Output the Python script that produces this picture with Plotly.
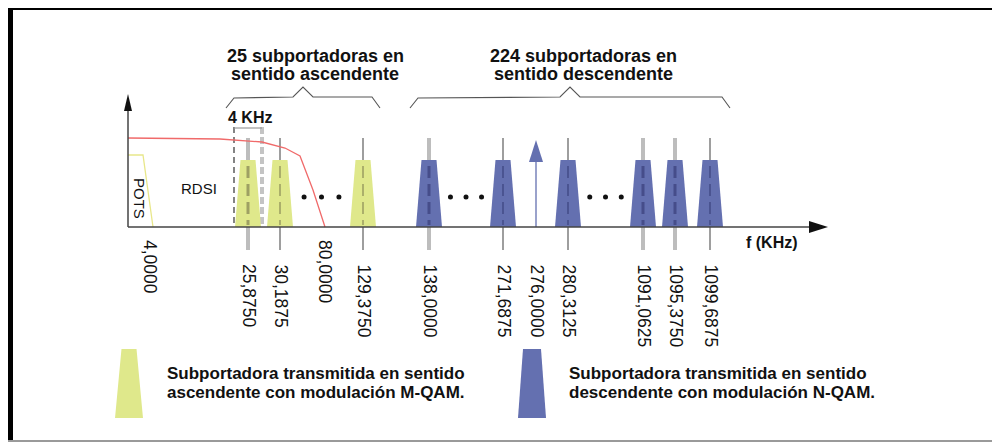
import plotly.graph_objects as go

# ---------------- data ----------------
# Schematic (non-linear) frequency axis: each carrier has a diagram position
up_labels = ["25,8750", "30,1875", "129,3750"]
up_pos = [248, 280, 363]
down_labels = ["138,0000", "271,6875", "280,3125", "1091,0625", "1095,3750", "1099,6875"]
down_pos = [429, 503, 568, 643, 675, 710]
pilot_label = "276,0000"
pilot_pos = 536
edge_labels = ["4,0000", "80,0000"]
edge_pos = [150, 325]
# carriers drawn with a wide light tick
wide_ticks = ["25,8750", "138,0000", "1091,0625", "1095,3750"]

# ISDN / POTS filter curve (schematic)
curve_x = [128, 220, 262, 285, 300, 313, 325]
curve_y = [138, 139, 142, 148, 156, 190, 227]

title_up = ["25 subportadoras en", "sentido ascendente"]
title_down = ["224 subportadoras en", "sentido descendente"]
legend_up = ["Subportadora transmitida en sentido", "ascendente con modulación M-QAM."]
legend_down = ["Subportadora transmitida en sentido", "descendente con modulación N-QAM."]

# ---------------- style ----------------
YEL = "#dfe88b"
BLU = "#6470b0"
FONT = "Liberation Sans, Arial, sans-serif"
BASE = 227
TOP = 160
HB, HT = 13, 7.5

fig = go.Figure()

def line(xs, ys, color, width=1.2, dash=None, opacity=1.0):
    fig.add_trace(go.Scatter(x=xs, y=ys, mode="lines", opacity=opacity,
                             line=dict(color=color, width=width, dash=dash),
                             hoverinfo="skip", showlegend=False))

def poly(xs, ys, color, fill=True, width=0):
    fig.add_trace(go.Scatter(x=xs + [xs[0]], y=ys + [ys[0]], mode="lines",
                             fill="toself" if fill else None, fillcolor=color,
                             line=dict(color=color, width=width),
                             hoverinfo="skip", showlegend=False))

def trap(cx, color, top=TOP, bottom=BASE, hb=HB, ht=HT):
    poly([cx - hb, cx - ht, cx + ht, cx + hb], [bottom, top, top, bottom], color)

def text(x, y, s, size=15, angle=0, xa="center", ya="middle", bold=False, color="#111"):
    fig.add_annotation(x=x, y=y, text=f"<b>{s}</b>" if bold else s, showarrow=False,
                       textangle=angle, xanchor=xa, yanchor=ya,
                       font=dict(family=FONT, size=size, color=color))

# ticks through carriers (behind trapezoids)
for lab, p in zip(up_labels + down_labels, up_pos + down_pos):
    wide = lab in wide_ticks
    line([p, p], [138, 250], "#bdbdbd" if wide else "#6a6a6a", 4 if wide else 1.3)

# 4 KHz markers
line([234, 234], [127, BASE], "#333", 1.2, "6px,4px")
line([262, 262], [127, BASE], "#c4c4c4", 4, "7px,3px")
line([234, 262], [128, 128], "#9a9a9a", 1.2)
text(250, 117, "4 KHz", 16, bold=True)

# red curve
line(curve_x, curve_y, "#f06a6a", 1.3)

# POTS outline
line([128, 143, 153], [155, 155, BASE], "#e8e78a", 1.3)
text(140, 198, "POTS", 15, angle=90)
text(199, 188, "RDSI", 15)

# carriers
for lab, p in zip(up_labels, up_pos):
    trap(p, YEL)
for lab, p in zip(down_labels, down_pos):
    trap(p, BLU)
# dashed inner ticks
for lab, p in zip(up_labels, up_pos):
    line([p, p], [166, 225], "#8f8f5a", 3 if lab in wide_ticks else 1.6, "12px,6px", 0.8)
for lab, p in zip(down_labels, down_pos):
    line([p, p], [166, 225], "#434a86", 3 if lab in wide_ticks else 1.6, "12px,6px", 0.9)

# pilot
line([pilot_pos, pilot_pos], [BASE, 160], BLU, 1.3)
poly([pilot_pos - 7, pilot_pos, pilot_pos + 7], [162, 140, 162], BLU)

# ellipsis dots between carrier groups
dot_x = []
for a, b in [(up_pos[1], up_pos[2]), (down_pos[0], down_pos[1]), (down_pos[2], down_pos[3])]:
    for f in (0.29, 0.5, 0.71):
        dot_x.append(a + (b - a) * f)
fig.add_trace(go.Scatter(x=dot_x, y=[197] * len(dot_x), mode="markers",
                         marker=dict(color="#111", size=5), hoverinfo="skip", showlegend=False))

# axes
line([128, 128], [BASE, 108], "#444", 1.5)
poly([124, 128, 132], [111, 94, 111], "#111")
line([128, 812], [BASE, BASE], "#444", 1.3)
poly([809, 828, 809], [221, BASE, 233], "#111")
text(772, 242, "f (KHz)", 16, bold=True)

# tick labels
for lab, p in zip(edge_labels, edge_pos):
    text(p, 238, lab, 17.5, angle=90, ya="top")
for lab, p in zip(up_labels + down_labels + [pilot_label], up_pos + down_pos + [pilot_pos]):
    text(p + 1, 262, lab, 17.5, angle=90, ya="top")

# braces
def brace(x0, xm, x1, color="#555"):
    line([x0, x0 + 8, xm - 10, xm, xm + 10, x1 - 8, x1],
         [108, 98, 97, 87, 97, 97, 108], color, 1.1)

brace(226, 303, 380)
brace(410, 570, 730)

text(315, 56, title_up[0], 18, bold=True)
text(315, 74, title_up[1], 18, bold=True)
text(583, 56, title_down[0], 18, bold=True)
text(583, 74, title_down[1], 18, bold=True)

# legend
trap(129, YEL, top=349, bottom=418, hb=14, ht=7.5)
trap(532, BLU, top=349, bottom=418, hb=14, ht=9)
text(165, 373, legend_up[0], 17, xa="left", bold=True)
text(165, 392, legend_up[1], 17, xa="left", bold=True)
text(567, 373, legend_down[0], 17, xa="left", bold=True)
text(567, 392, legend_down[1], 17, xa="left", bold=True)

# frame
fig.add_shape(type="rect", xref="x", yref="y", x0=8, x1=1000, y0=4, y1=10,
              fillcolor="#000", line=dict(width=0), layer="above")
fig.add_shape(type="rect", xref="x", yref="y", x0=8, x1=13, y0=4, y1=442,
              fillcolor="#000", line=dict(width=0), layer="above")
fig.add_shape(type="rect", xref="x", yref="y", x0=8, x1=1000, y0=440, y1=442,
              fillcolor="#9a9a9a", line=dict(width=0), layer="above")

# page body has an 8px margin: the plot spans window pixels 8..1000 x 8..442
fig.update_layout(width=992, height=434, margin=dict(l=0, r=0, t=0, b=0, pad=0),
                  paper_bgcolor="white", plot_bgcolor="white",
                  xaxis=dict(range=[8, 1000], visible=False, fixedrange=True),
                  yaxis=dict(range=[442, 8], visible=False, fixedrange=True),
                  showlegend=False)
fig.write_html("out.html")
